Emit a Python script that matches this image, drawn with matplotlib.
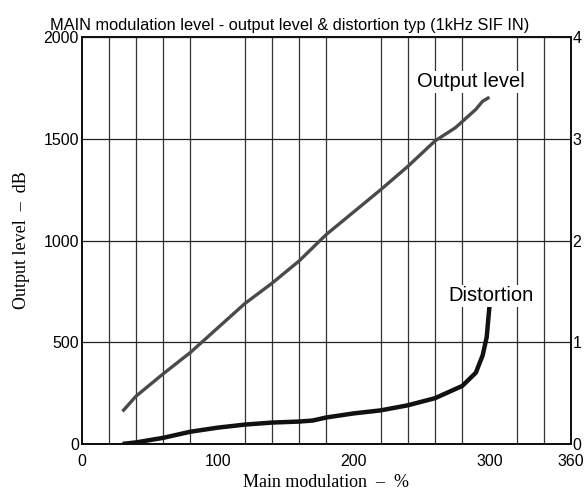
import matplotlib.pyplot as plt
import numpy as np

# values
mod_out = [30, 40, 60, 80, 100, 120, 140, 160, 180, 200, 220, 240, 260, 275, 290, 295, 300]
output_level = [160, 235, 345, 450, 570, 690, 790, 900, 1030, 1140, 1250, 1365, 1490, 1555, 1645, 1685, 1705]

mod_dist = [30, 40, 60, 80, 100, 120, 140, 160, 170, 180, 200, 220, 240, 260, 280, 290, 295, 298, 300]
distortion = [0.0, 0.015, 0.06, 0.12, 0.16, 0.19, 0.21, 0.22, 0.23, 0.26, 0.30, 0.33, 0.38, 0.45, 0.57, 0.70, 0.87, 1.05, 1.35]

x_ticks = [0, 100, 200, 300, 360]
y_ticks = [0, 500, 1000, 1500, 2000]
y2_ticks = [0, 1, 2, 3, 4]

sans = ['Liberation Sans', 'DejaVu Sans']
serif = ['Liberation Serif', 'DejaVu Serif']

fig = plt.figure(figsize=(5.88, 4.96), dpi=100)
ax = fig.add_axes([0.139, 0.105, 0.832, 0.82])
ax2 = ax.twinx()

ax.set_xlim(0, 360)
ax.set_ylim(0, 2000)
ax2.set_ylim(0, 4)

ax.set_xticks(x_ticks)
ax.set_xticks(np.arange(0, 361, 20), minor=True)
ax.set_yticks(y_ticks)
ax2.set_yticks(y2_ticks)

ax.grid(which='minor', axis='x', color='#333333', lw=0.9)
ax.grid(which='major', axis='y', color='#222222', lw=0.9)
ax.set_axisbelow(True)

for a in (ax, ax2):
    a.tick_params(which='both', length=0, labelsize=11.5, pad=2)
    for lab in a.get_xticklabels() + a.get_yticklabels():
        lab.set_family(sans)
    for s in a.spines.values():
        s.set_linewidth(1.4)
        s.set_color('#111111')
ax.tick_params(axis='x', pad=7)
ax2.tick_params(axis='y', pad=1)

ax.plot(mod_out, output_level, color='#4a4a4a', lw=2.4, solid_capstyle='butt', zorder=3)
ax2.plot(mod_dist, distortion, color='#111111', lw=3.2, solid_capstyle='butt', zorder=3)

ax.text(247, 1780, 'Output level', family=sans, fontsize=14.5, va='center', ha='left',
        bbox=dict(facecolor='white', edgecolor='none', pad=1), zorder=4)
ax2.text(270, 1.455, 'Distortion', family=sans, fontsize=14.5, va='center', ha='left',
         bbox=dict(facecolor='white', edgecolor='none', pad=1), zorder=4)

ax.set_xlabel('Main modulation  \u2013  %', family=serif, fontsize=13, labelpad=4)
ax.set_ylabel('Output level  \u2013  dB', family=serif, fontsize=13, labelpad=10)

fig.text(0.493, 0.94, 'MAIN modulation level - output level & distortion typ (1kHz SIF IN)',
         family=sans, fontsize=11.8, ha='center', va='baseline')

fig.savefig('out.png', dpi=100)
